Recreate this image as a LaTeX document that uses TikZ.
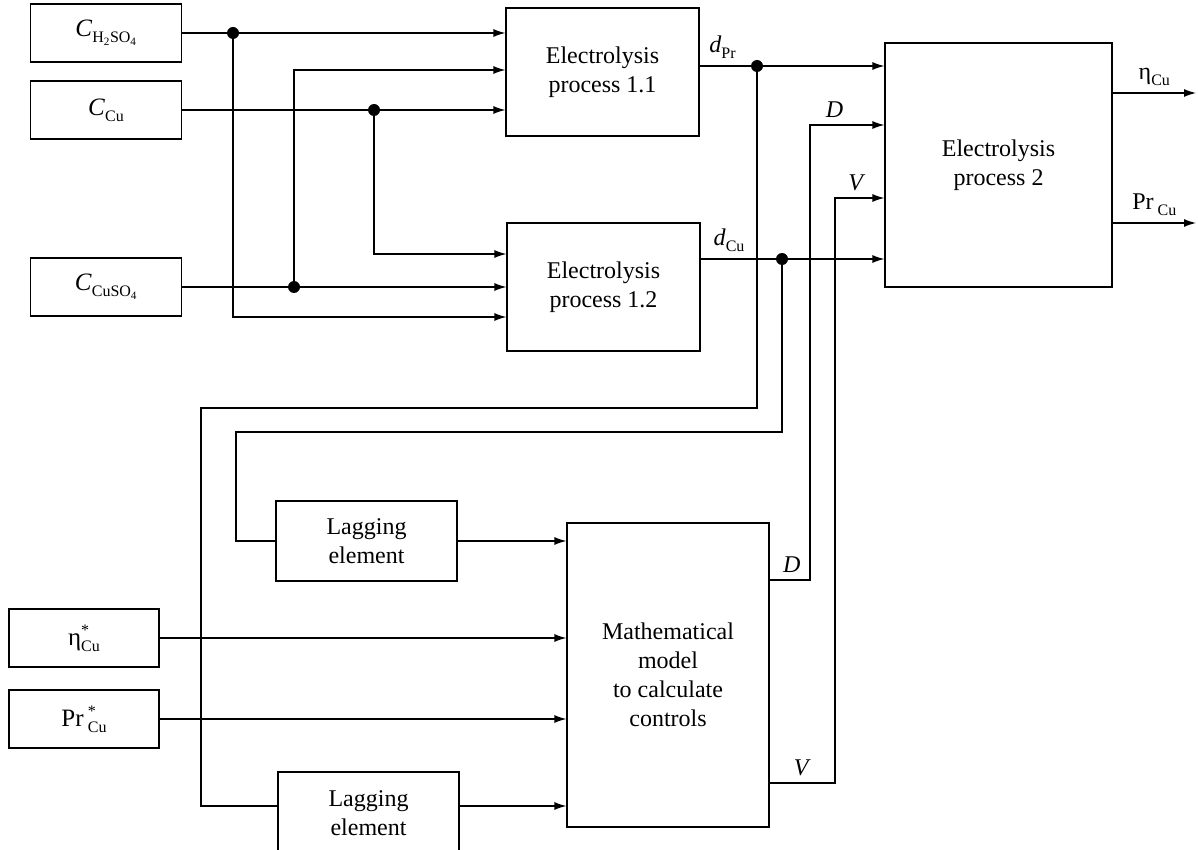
\documentclass[tikz,border=0pt]{standalone}
\usepackage{fontspec}
\setmainfont{Liberation Serif}
\usetikzlibrary{arrows.meta}
\tikzset{
  font={\fontsize{24pt}{29pt}\selectfont}}
\newcommand{\sbs}[1]{\raisebox{-6pt}{\fontsize{16pt}{16pt}\selectfont #1}}
\newcommand{\sps}[1]{\rlap{\raisebox{10pt}{\fontsize{16pt}{16pt}\selectfont #1}}}

\begin{document}
\begin{tikzpicture}[x=1pt, y=-1pt, line width=1.2pt]

    \tikzset{edge/.style = {-{Latex[length=12pt,width=8pt]}}}
    \tikzset{block/.style = {draw, align=center, inner sep=0pt}}
    \tikzset{inbox/.style = {block, minimum width=151pt, minimum height=58pt,
      font={\fontsize{25pt}{29pt}\selectfont}}}
    \tikzset{dot/.style = {circle, fill, inner sep=0pt, minimum size=12pt}}
    \tikzset{lbl/.style = {above, inner sep=7pt}}

    \useasboundingbox (0,0) rectangle (1198,850);

    % input blocks
    \node[inbox] (cH) at (106,33) {\textit{C}\sbs{H\textsubscript{2}SO\textsubscript{4}}};
    \node[inbox] (cC) at (106,110) {\textit{C}\sbs{Cu}};
    \node[inbox] (cS) at (106,287) {\textit{C}\sbs{CuSO\textsubscript{4}}};
    \node[inbox, minimum width=150pt] (eta) at (84,638) {η\sps{*}\sbs{Cu}};
    \node[inbox, minimum width=150pt] (prs) at (84,719) {Pr\,\sps{*}\sbs{Cu}};

    % process blocks
    \node[block, minimum width=193pt, minimum height=128pt] (ep11) at (602.5,72) {Electrolysis\\process 1.1};
    \node[block, minimum width=193pt, minimum height=128pt] (ep12) at (603.5,287) {Electrolysis\\process 1.2};
    \node[block, minimum width=227pt, minimum height=244pt] (ep2) at (998.5,165) {Electrolysis\\process 2};
    \node[block, minimum width=181pt, minimum height=80pt] (lag1) at (366.5,541) {Lagging\\element};
    \node[block, minimum width=181pt, minimum height=82pt] (lag2) at (368.5,813) {Lagging\\element};
    \node[block, minimum width=202pt, minimum height=304pt] (mm) at (668,675) {Mathematical\\model\\to calculate\\controls};

    % branch points
    \node[dot] (jH) at (233,33) {};
    \node[dot] (jC) at (374,110) {};
    \node[dot] (jS) at (294,287) {};
    \node[dot] (jPr) at (757,66) {};
    \node[dot] (jCu) at (782,259) {};

    % corners
    \coordinate (rowH) at (233,317);
    \coordinate (rowC) at (374,254);
    \coordinate (rowS) at (294,70);
    \coordinate (fbPr1) at (757,408);
    \coordinate (fbPr2) at (201,408);
    \coordinate (fbPr3) at (201,806);
    \coordinate (fbCu1) at (782,432);
    \coordinate (fbCu2) at (236,432);
    \coordinate (dOut) at (810,580);
    \coordinate (dUp) at (810,125);
    \coordinate (vOut) at (835,783);
    \coordinate (vUp) at (835,198);
    \coordinate (oEta) at (1196,93);
    \coordinate (oPr) at (1196,223);

    % inputs to processes 1.1 and 1.2
    \draw[edge] (cH) -- (jH.center) -- (ep11.west |- jH);
    \draw[edge] (jH.center) -- (rowH) -- (ep12.west |- rowH);
    \draw[edge] (cC) -- (jC.center) -- (ep11.west |- jC);
    \draw[edge] (jC.center) -- (rowC) -- (ep12.west |- rowC);
    \draw[edge] (cS) -- (jS.center) -- (ep12.west |- jS);
    \draw[edge] (jS.center) -- (rowS) -- (ep11.west |- rowS);

    % outputs of processes 1.1 and 1.2
    \draw (ep11.east |- jPr) -- node[lbl, pos=.4] {\textit{d}\sbs{Pr}} (jPr.center);
    \draw[edge] (jPr.center) -- (ep2.west |- jPr);
    \draw (ep12.east |- jCu) -- node[lbl, pos=.35] {\textit{d}\sbs{Cu}} (jCu.center);
    \draw[edge] (jCu.center) -- (ep2.west |- jCu);

    % feedback through lagging elements
    \draw (jPr.center) -- (fbPr1) -- (fbPr2) -- (fbPr3) -- (lag2.west |- fbPr3);
    \draw (jCu.center) -- (fbCu1) -- (fbCu2) |- (lag1);
    \draw[edge] (lag1) -- (mm.west |- lag1);
    \draw[edge] (eta) -- (mm.west |- eta);
    \draw[edge] (prs) -- (mm.west |- prs);
    \draw[edge] (lag2.east |- fbPr3) -- (mm.west |- fbPr3);

    % controls
    \draw[edge] (mm.east |- dOut) -- node[lbl, pos=.55] {\textit{D}} (dOut) -- (dUp)
      -- node[lbl, pos=.33] {\textit{D}} (ep2.west |- dUp);
    \draw[edge] (mm.east |- vOut) -- node[lbl, pos=.5] {\textit{V}} (vOut) -- (vUp)
      -- node[lbl, pos=.44] {\textit{V}} (ep2.west |- vUp);

    % outputs of process 2
    \draw[edge] (ep2.east |- oEta) -- node[lbl] {η\sbs{Cu}} (oEta);
    \draw[edge] (ep2.east |- oPr) -- node[lbl] {Pr\,\sbs{Cu}} (oPr);

\end{tikzpicture}
\end{document}
